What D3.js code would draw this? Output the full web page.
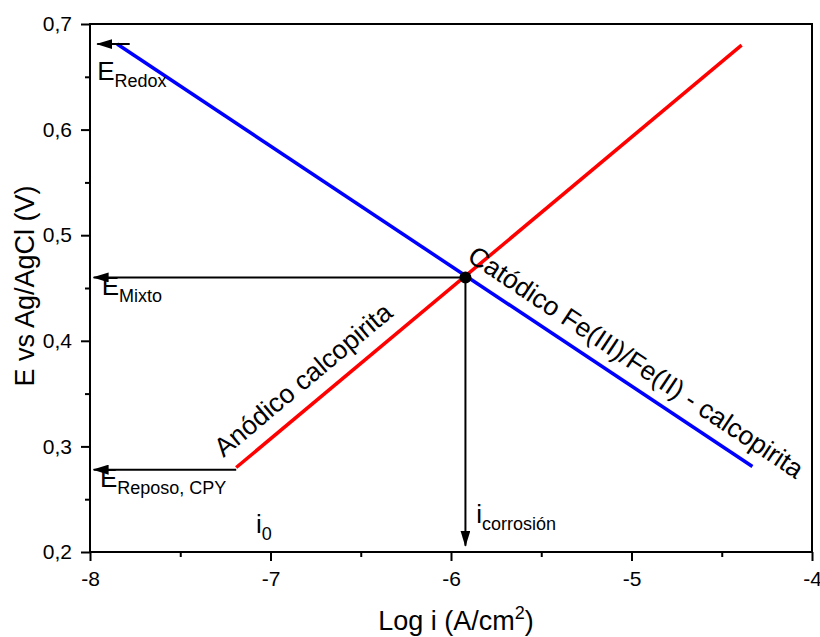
<!DOCTYPE html>
<html lang="es">
<head>
  <meta charset="utf-8">
  <title>Diagrama de Evans</title>
  <script src="https://d3js.org/d3.v7.min.js"></script>
  <style>
    body { margin: 0; background: #fff; }
    text { font-family: "Liberation Sans", Arial, sans-serif; fill: #000; }
  </style>
</head>
<body>
  <script>
    // config
    const width = 820, height = 637;
    const margin = { top: 24, right: 8, bottom: 85, left: 90 };
    const innerWidth = width - margin.left - margin.right;
    const innerHeight = height - margin.top - margin.bottom;

    // data
    const xTicks = [-8, -7, -6, -5, -4];
    const xMinor = [-7.5, -6.5, -5.5, -4.5];
    const yTicks = [0.2, 0.3, 0.4, 0.5, 0.6, 0.7];
    const yMinor = [0.25, 0.35, 0.45, 0.55, 0.65];
    const anodic = [[-7.19, 0.28], [-4.39, 0.68]];      // rojo
    const cathodic = [[-7.85, 0.681], [-4.33, 0.281]];  // azul
    const mixed = [-5.92, 0.46];
    const arrows = [
      { from: [-7.78, 0.681], to: [-7.96, 0.681] },
      { from: [-5.92, 0.46], to: [-7.98, 0.46] },
      { from: [-7.19, 0.278], to: [-7.98, 0.278] },
      { from: [-5.92, 0.46], to: [-5.92, 0.206] }
    ];
    const labels = [
      { x: -7.96, y: 0.647, main: "E", sub: "Redox" },
      { x: -7.935, y: 0.443, main: "E", sub: "Mixto" },
      { x: -7.945, y: 0.262, main: "E", sub: "Reposo, CPY" },
      { x: -7.08, y: 0.218, main: "i", sub: "0" },
      { x: -5.86, y: 0.227, main: "i", sub: "corrosión" }
    ];

    const svg = d3.select("body").append("svg")
      .attr("width", width).attr("height", height);
    const g = svg.append("g")
      .attr("transform", `translate(${margin.left}, ${margin.top})`);

    const x = d3.scaleLinear().domain([-8, -4]).range([0, innerWidth]);
    const y = d3.scaleLinear().domain([0.2, 0.7]).range([innerHeight, 0]);
    const fmtY = d => d3.format(".1f")(d).replace(".", ",");
    const fmtX = d => String(d).replace("\u2212", "-");

    // axes
    const xAxis = g.append("g").attr("transform", `translate(0, ${innerHeight})`)
      .call(d3.axisBottom(x).tickValues(xTicks).tickSize(9).tickPadding(10).tickFormat(fmtX));
    g.append("g").attr("transform", `translate(0, ${innerHeight})`)
      .call(d3.axisBottom(x).tickValues(xMinor).tickSize(5).tickFormat(""));
    const yAxis = g.append("g")
      .call(d3.axisLeft(y).tickValues(yTicks).tickSize(9).tickPadding(9).tickFormat(fmtY));
    g.append("g")
      .call(d3.axisLeft(y).tickValues(yMinor).tickSize(5).tickFormat(""));
    g.selectAll(".tick line").attr("stroke-width", 2);
    g.selectAll("path.domain").remove();
    xAxis.selectAll("text").style("font-size", "21px");
    yAxis.selectAll("text").style("font-size", "21px");
    g.append("rect")
      .attr("width", innerWidth).attr("height", innerHeight)
      .attr("fill", "none").attr("stroke", "#000").attr("stroke-width", 2);

    // axis titles
    const xt = svg.append("text")
      .attr("x", margin.left + innerWidth / 2 + 5).attr("y", 630)
      .attr("text-anchor", "middle").style("font-size", "27px");
    xt.append("tspan").text("Log i (A/cm");
    xt.append("tspan").text("2").attr("dy", -11).style("font-size", "18px");
    xt.append("tspan").text(")").attr("dy", 11);
    svg.append("text")
      .attr("transform", `translate(34, 286) rotate(-90)`)
      .attr("text-anchor", "middle").style("font-size", "27px")
      .text("E vs Ag/AgCl (V)");

    // lines
    const line = d3.line().x(d => x(d[0])).y(d => y(d[1]));
    g.append("path").datum(anodic).attr("d", line)
      .attr("stroke", "#ff0000").attr("stroke-width", 3.5).attr("fill", "none");
    g.append("path").datum(cathodic).attr("d", line)
      .attr("stroke", "#0000ff").attr("stroke-width", 3.5).attr("fill", "none");

    // arrows
    svg.append("defs").append("marker")
      .attr("id", "head").attr("viewBox", "0 0 16 10")
      .attr("refX", 15).attr("refY", 5)
      .attr("markerWidth", 16).attr("markerHeight", 10)
      .attr("markerUnits", "userSpaceOnUse")
      .attr("orient", "auto")
      .append("path").attr("d", "M0,0L16,5L0,10Z").attr("fill", "#000");
    g.selectAll("line.arrow").data(arrows).join("line")
      .attr("class", "arrow")
      .attr("x1", d => x(d.from[0])).attr("y1", d => y(d.from[1]))
      .attr("x2", d => x(d.to[0])).attr("y2", d => y(d.to[1]))
      .attr("stroke", "#000").attr("stroke-width", 2)
      .attr("marker-end", "url(#head)");

    g.append("circle")
      .attr("cx", x(mixed[0])).attr("cy", y(mixed[1])).attr("r", 6).attr("fill", "#000");

    // labels with subscript
    labels.forEach(l => {
      const t = g.append("text").attr("x", x(l.x)).attr("y", y(l.y)).style("font-size", "26px");
      t.append("tspan").text(l.main);
      t.append("tspan").text(l.sub).attr("dy", 7).style("font-size", "18px");
    });

    // rotated line labels
    const angle = (p) => Math.atan2(y(p[1][1]) - y(p[0][1]), x(p[1][0]) - x(p[0][0])) * 180 / Math.PI;
    g.append("text")
      .attr("transform", `translate(${x(-7.26)}, ${y(0.289)}) rotate(${angle(anodic)})`)
      .style("font-size", "26.5px")
      .text("Anódico calcopirita");
    g.append("text")
      .attr("transform", `translate(${x(-5.917)}, ${y(0.4765)}) rotate(${angle(cathodic)})`)
      .style("font-size", "26.5px")
      .text("Catódico Fe(III)/Fe(II) - calcopirita");
  </script>
</body>
</html>
